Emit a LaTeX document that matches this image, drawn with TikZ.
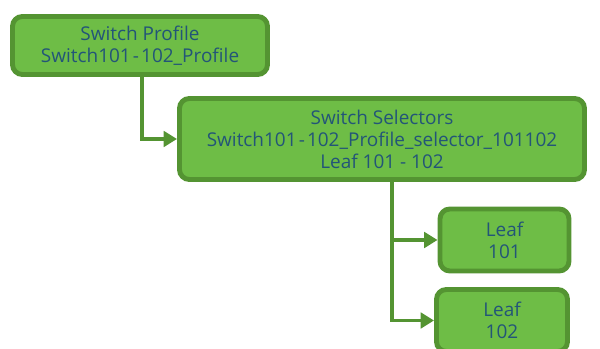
\documentclass[tikz,border=0pt]{standalone}
\usepackage{fontspec}
\setmainfont{Open Sans}
\usepackage{tikz}
\usetikzlibrary{arrows.meta, positioning}
\definecolor{leafgreen}{RGB}{110, 189, 70}
\definecolor{edgegreen}{RGB}{84, 148, 50}
\definecolor{textblue}{RGB}{35, 85, 120}
\newcommand{\hy}{\kern1.5pt-\kern1.5pt}

\begin{document}
\begin{tikzpicture}[
  gbox/.style={draw=edgegreen, fill=leafgreen, line width=3.5pt, rounded corners=7pt, align=center, inner sep=2pt, text=textblue, font=\fontsize{13.5}{15.6}\selectfont},
  conn/.style={draw=edgegreen, line width=2.8pt, -{Triangle[length=9.5pt, width=11pt]}}
]
  \useasboundingbox (0, 0) rectangle (15, 8.725);
  \clip (0, 0) rectangle (15, 8.725);
  \node[gbox, minimum width=6.375cm, minimum height=1.45cm] (profile) at (3.5, 7.5875) {Switch Profile\\Switch101\hy102\_Profile};
  \node[gbox, minimum width=10.125cm, minimum height=2.025cm] (selectors) at (9.55, 5.25) {Switch Selectors\\Switch101\hy102\_Profile\_selector\_101102\\Leaf 101 - 102};
  \node[gbox, minimum width=3.225cm, minimum height=1.55cm] (leaf101) at (12.6125, 2.725) {Leaf\\101};
  \node[gbox, minimum width=3.275cm, minimum height=1.55cm] (leaf102) at (12.55, 0.7125) {Leaf\\102};
  % connectors
  \draw[conn] ([xshift=0.05cm]profile.south) |- (selectors.west);
  \draw[conn] ([xshift=0.25cm]selectors.south) |- (leaf101.west);
  \draw[conn] ([xshift=0.25cm]selectors.south) |- (leaf102.west);
\end{tikzpicture}
\end{document}
